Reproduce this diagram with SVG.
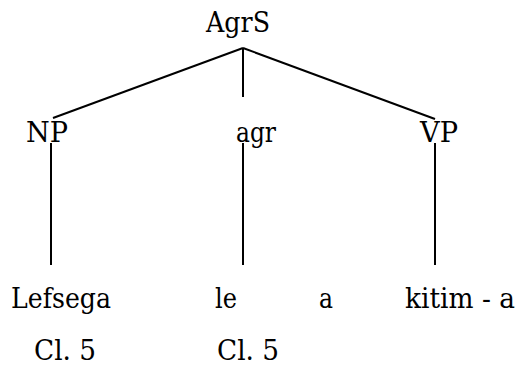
<svg xmlns="http://www.w3.org/2000/svg" width="517" height="368" viewBox="0 0 517 368">
<style>
.t{font-family:'DejaVu Serif','Liberation Serif',serif;font-size:27px;fill:#000}
.e{stroke:#000;stroke-width:2;fill:none}
</style>
<rect width="517" height="368" fill="#fff"/>
<g id="connectors">
<line class="e" x1="243" y1="48" x2="53" y2="118"/>
<line class="e" x1="243" y1="48" x2="243" y2="97"/>
<line class="e" x1="243" y1="48" x2="435" y2="119"/>
<line class="e" x1="51" y1="143" x2="51" y2="265"/>
<line class="e" x1="243" y1="143" x2="243" y2="265"/>
<line class="e" x1="435" y1="143" x2="435" y2="265"/>
</g>
<g id="AgrS"><text class="t" x="206" y="32" textLength="64" lengthAdjust="spacingAndGlyphs">AgrS</text></g>
<g id="NP"><text class="t" x="26" y="142" textLength="42" lengthAdjust="spacingAndGlyphs">NP</text></g>
<g id="agr"><text class="t" x="236" y="142" textLength="40" lengthAdjust="spacingAndGlyphs">agr</text></g>
<g id="VP"><text class="t" x="420" y="142" textLength="38" lengthAdjust="spacingAndGlyphs">VP</text></g>
<g id="Lefsega"><text class="t" x="11" y="308" textLength="100" lengthAdjust="spacingAndGlyphs">Lefsega</text><text class="t" x="34" y="360" textLength="62" lengthAdjust="spacingAndGlyphs">Cl. 5</text></g>
<g id="le"><text class="t" x="215" y="308" textLength="22" lengthAdjust="spacingAndGlyphs">le</text><text class="t" x="217" y="360" textLength="62" lengthAdjust="spacingAndGlyphs">Cl. 5</text></g>
<g id="a"><text class="t" x="319" y="308" textLength="14" lengthAdjust="spacingAndGlyphs">a</text></g>
<g id="kitim"><text class="t" x="405" y="308" textLength="110" lengthAdjust="spacingAndGlyphs">kitim - a</text></g>
</svg>
